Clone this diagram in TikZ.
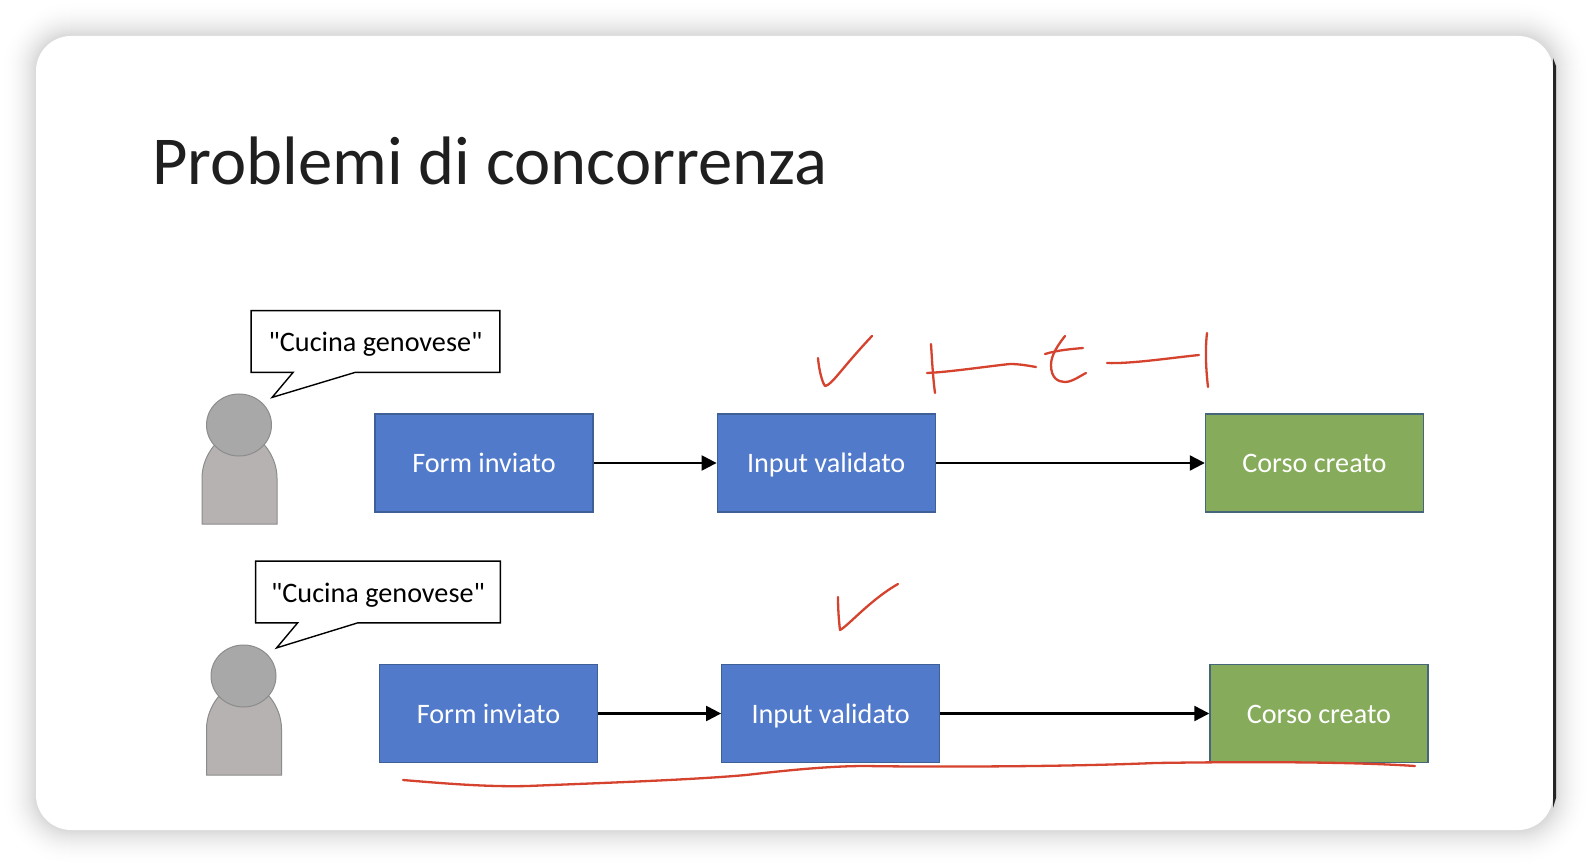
\documentclass[tikz,border=0pt]{standalone}
\usepackage{xcolor}
\usepackage{fontspec}
\setmainfont{Carlito}
\newfontfamily\bubblefont{Carlito}
\usetikzlibrary{
    shapes.geometric,
    arrows.meta,
    positioning,
    calc
}
\definecolor{slideblue}{HTML}{527ACA}
\definecolor{slideblueline}{HTML}{3F5F97}
\definecolor{slidegreen}{HTML}{85AB5B}
\definecolor{slidegreenline}{HTML}{46667A}
\definecolor{bodygray}{HTML}{B6B2B1}
\definecolor{headgray}{HTML}{A8A8A8}
\definecolor{persongrayline}{HTML}{8C8C8C}
\definecolor{inkred}{HTML}{D5432F}
\tikzset{
    % Step box
    stepbox/.style={
        rectangle,
        draw=#1line,
        fill=#1,
        line width=0.6pt,
        text=white,
        font=\fontsize{14.1}{16}\selectfont,
        text height=12pt,
        text depth=2pt,
        minimum width=109pt,
        minimum height=49pt,
        align=center,
        inner sep=0pt
    },
    stepbox/.default=slideblue,
    % Speech bubble text
    bubbletext/.style={
        rectangle,
        text=black,
        font=\bubblefont\fontsize{14.1}{16}\selectfont,
        text height=12pt,
        text depth=2pt,
        minimum height=30.5pt,
        align=center,
        inner sep=0pt
    },
    % Speech bubble outline
    bubbleline/.style={
        draw=black,
        fill=white,
        line width=0.7pt
    },
    % Flow arrow
    flowarrow/.style={
        -{Triangle[length=7.5pt,width=7.5pt]},
        line width=1.1pt,
        color=black
    },
    % Person
    personbody/.style={
        draw=persongrayline,
        fill=bodygray,
        line width=0.5pt
    },
    personhead/.style={
        ellipse,
        draw=persongrayline,
        fill=headgray,
        line width=0.5pt,
        minimum width=32.5pt,
        minimum height=31pt,
        inner sep=0pt
    },
    % Handwritten strokes
    inkstroke/.style={
        draw=inkred,
        line width=1.15pt,
        line cap=round,
        line join=round
    }
}
\begin{document}
\begin{tikzpicture}[x=0.5pt,y=-0.5pt]
    \useasboundingbox (0,0) rectangle (1592,866);

    % Slide with its shadow
    \foreach \i in {36,35,...,1}{
        \pgfmathsetmacro{\ringtint}{15*(1-\i/37)^2.2}
        \fill[black!\ringtint!white, rounded corners=17.5pt+0.5pt*\i] (36-\i,36-\i) rectangle (1554+\i,830+\i);
    }
    \fill[white, rounded corners=17.5pt] (36,36) rectangle (1553,830);
    \fill[black!85] (1553,58) -- (1556,66) -- (1556,798) -- (1553,808) -- cycle;

    \node[anchor=base west, font=\fontsize{34.3}{40}\selectfont, text=black!88, inner sep=0pt] (title) at (152,185) {Problemi di concorrenza};

    % First row
    \node[stepbox] (form1) at (484,463) {Form inviato};
    \node[stepbox, right=61.5pt of form1] (input1) {Input validato};
    \node[stepbox=slidegreen, right=134.5pt of input1] (corso1) {Corso creato};
    \draw[flowarrow] (form1) -- (input1);
    \draw[flowarrow] (input1) -- (corso1);

    \draw[personbody] (202,524) -- (202,478) .. controls (202,455) and (220,432) .. (239.5,432) .. controls (259,432) and (277,455) .. (277,478) -- (277,524) -- cycle;
    \node[personhead] (head1) at (239,425) {};
    \node[bubbletext, minimum width=124pt] (bubble1) at (375.5,341.5) {};
    \draw[bubbleline] (bubble1.north west) -- (bubble1.north east) -- (bubble1.south east)
        -- ($(bubble1.south west)+(104,0)$) -- ($(bubble1.south west)+(21,25)$) -- ($(bubble1.south west)+(42,0)$)
        -- (bubble1.south west) -- cycle;
    \node[bubbletext, minimum width=124pt] (quote1) at (bubble1) {"Cucina genovese"};

    % Second row
    \node[stepbox] (form2) at (488.5,713.5) {Form inviato};
    \node[stepbox, right=61.5pt of form2] (input2) {Input validato};
    \node[stepbox=slidegreen, right=134.5pt of input2] (corso2) {Corso creato};
    \draw[flowarrow] (form2) -- (input2);
    \draw[flowarrow] (input2) -- (corso2);

    \draw[personbody] (206.5,775) -- (206.5,729) .. controls (206.5,706) and (224.5,683) .. (244,683) .. controls (263.5,683) and (281.5,706) .. (281.5,729) -- (281.5,775) -- cycle;
    \node[personhead] (head2) at (243.5,676) {};
    \node[bubbletext, minimum width=122pt] (bubble2) at (378,592) {};
    \draw[bubbleline] (bubble2.north west) -- (bubble2.north east) -- (bubble2.south east)
        -- ($(bubble2.south west)+(102,0)$) -- ($(bubble2.south west)+(21,25)$) -- ($(bubble2.south west)+(42,0)$)
        -- (bubble2.south west) -- cycle;
    \node[bubbletext, minimum width=122pt] (quote2) at (bubble2) {"Cucina genovese"};

    % Handwriting, first row
    \draw[inkstroke] (818,358) .. controls (819,370) and (822,382) .. (825,386) .. controls (832,385) and (840,370) .. (872,336);
    \draw[inkstroke] (931,344) .. controls (932,360) and (933,378) .. (935,393);
    \draw[inkstroke] (927,373) .. controls (950,372) and (990,366) .. (1010,364) .. controls (1020,364) and (1030,366) .. (1036,367);
    \draw[inkstroke] (1065,336) .. controls (1058,345) and (1051,355) .. (1051,365) .. controls (1051,378) and (1058,382) .. (1065,382) .. controls (1072,382) and (1080,376) .. (1086,373);
    \draw[inkstroke] (1045,354) .. controls (1058,350) and (1072,349) .. (1083,348);
    \draw[inkstroke] (1107,363) .. controls (1130,364) and (1170,358) .. (1199,355);
    \draw[inkstroke] (1207,333) .. controls (1205,350) and (1206,370) .. (1208,387);

    % Handwriting, second row
    \draw[inkstroke] (838,597) .. controls (838,610) and (839,622) .. (840,630) .. controls (848,626) and (870,600) .. (898,584);
    \draw[inkstroke] (403,780) .. controls (450,784) and (490,787) .. (528,786) .. controls (600,783) and (690,780) .. (746,775) .. controls (790,770) and (830,766) .. (866,766) .. controls (920,767) and (1060,767) .. (1155,763) .. controls (1220,762) and (1340,761) .. (1415,766);
\end{tikzpicture}
\end{document}
